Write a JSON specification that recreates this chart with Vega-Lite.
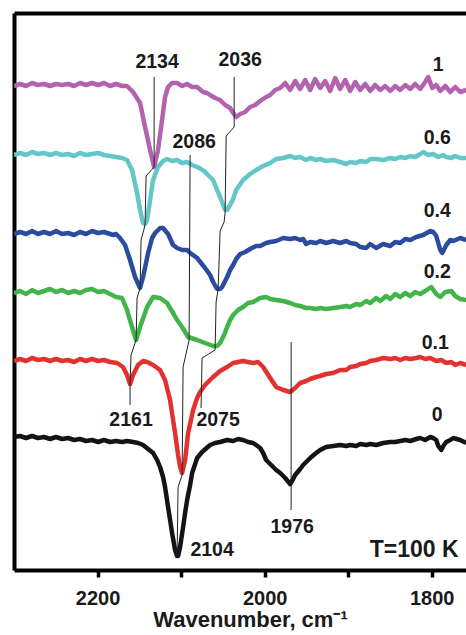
{
  "$schema": "https://vega.github.io/schema/vega-lite/v6.json",
  "width": 452,
  "height": 557,
  "autosize": {"type": "none"},
  "padding": {"left": 14, "top": 13, "right": 0, "bottom": 65},
  "background": "white",
  "view": {"stroke": null},
  "config": {"font": "Liberation Sans"},
  "datasets": {
    "curves": [
      {"s":"0","w":2300,"a":133},{"s":"0","w":2292.8,"a":134},{"s":"0","w":2285.6,"a":132},{"s":"0","w":2278.4,"a":134},{"s":"0","w":2271.3,"a":132},{"s":"0","w":2264.1,"a":133},{"s":"0","w":2256.9,"a":131},{"s":"0","w":2249.7,"a":133},{"s":"0","w":2242.5,"a":131},{"s":"0","w":2235.3,"a":132},{"s":"0","w":2228.1,"a":130},{"s":"0","w":2221.0,"a":131},{"s":"0","w":2213.8,"a":129},{"s":"0","w":2206.6,"a":130},{"s":"0","w":2199.4,"a":128},{"s":"0","w":2192.2,"a":130},{"s":"0","w":2185.0,"a":128},{"s":"0","w":2177.8,"a":129},{"s":"0","w":2170.7,"a":128},{"s":"0","w":2164.7,"a":129},{"s":"0","w":2157.5,"a":128},{"s":"0","w":2151.5,"a":127},{"s":"0","w":2145.5,"a":125},{"s":"0","w":2139.5,"a":121},{"s":"0","w":2133.5,"a":117},{"s":"0","w":2128.7,"a":110},{"s":"0","w":2125.2,"a":103},{"s":"0","w":2121.6,"a":93},{"s":"0","w":2119.2,"a":83},{"s":"0","w":2115.6,"a":63},{"s":"0","w":2113.2,"a":50},{"s":"0","w":2110.8,"a":37},{"s":"0","w":2107.2,"a":20},{"s":"0","w":2104.8,"a":14},{"s":"0","w":2103.6,"a":14},{"s":"0","w":2101.2,"a":23},{"s":"0","w":2097.6,"a":43},{"s":"0","w":2095.2,"a":57},{"s":"0","w":2092.8,"a":70},{"s":"0","w":2089.2,"a":85},{"s":"0","w":2086.8,"a":97},{"s":"0","w":2080.8,"a":112},{"s":"0","w":2074.9,"a":118},{"s":"0","w":2065.3,"a":125},{"s":"0","w":2059.3,"a":127},{"s":"0","w":2053.3,"a":128},{"s":"0","w":2044.9,"a":130},{"s":"0","w":2037.7,"a":129},{"s":"0","w":2031.8,"a":131},{"s":"0","w":2025.8,"a":130},{"s":"0","w":2019.8,"a":128},{"s":"0","w":2013.8,"a":127},{"s":"0","w":2010.2,"a":125},{"s":"0","w":2005.4,"a":122},{"s":"0","w":2001.8,"a":117},{"s":"0","w":1998.2,"a":110},{"s":"0","w":1993.4,"a":106},{"s":"0","w":1986.2,"a":100},{"s":"0","w":1981.4,"a":97},{"s":"0","w":1975.4,"a":92},{"s":"0","w":1969.5,"a":86},{"s":"0","w":1965.9,"a":91},{"s":"0","w":1963.5,"a":95},{"s":"0","w":1957.5,"a":101},{"s":"0","w":1953.9,"a":105},{"s":"0","w":1945.5,"a":112},{"s":"0","w":1938.4,"a":117},{"s":"0","w":1933.5,"a":120},{"s":"0","w":1926.4,"a":123},{"s":"0","w":1918.0,"a":124},{"s":"0","w":1909.6,"a":125},{"s":"0","w":1902.4,"a":124},{"s":"0","w":1897.6,"a":125},{"s":"0","w":1890.4,"a":124},{"s":"0","w":1885.6,"a":126},{"s":"0","w":1878.4,"a":125},{"s":"0","w":1873.7,"a":126},{"s":"0","w":1866.5,"a":125},{"s":"0","w":1858.1,"a":127},{"s":"0","w":1849.7,"a":128},{"s":"0","w":1843.7,"a":128},{"s":"0","w":1837.7,"a":129},{"s":"0","w":1831.7,"a":130},{"s":"0","w":1825.7,"a":129},{"s":"0","w":1818.6,"a":131},{"s":"0","w":1813.8,"a":132},{"s":"0","w":1807.8,"a":130},{"s":"0","w":1801.8,"a":133},{"s":"0","w":1798.2,"a":132},{"s":"0","w":1794.6,"a":130},{"s":"0","w":1792.2,"a":124},{"s":"0","w":1788.6,"a":120},{"s":"0","w":1786.2,"a":124},{"s":"0","w":1782.6,"a":128},{"s":"0","w":1777.8,"a":130},{"s":"0","w":1774.3,"a":132},{"s":"0","w":1765.9,"a":130},{"s":"0","w":1758.7,"a":127},

      {"s":"0.1","w":2300,"a":209},{"s":"0.1","w":2292.8,"a":211},{"s":"0.1","w":2285.6,"a":209},{"s":"0.1","w":2278.4,"a":212},{"s":"0.1","w":2271.3,"a":210},{"s":"0.1","w":2264.1,"a":211},{"s":"0.1","w":2256.9,"a":209},{"s":"0.1","w":2249.7,"a":211},{"s":"0.1","w":2242.5,"a":209},{"s":"0.1","w":2235.3,"a":210},{"s":"0.1","w":2228.1,"a":208},{"s":"0.1","w":2221.0,"a":211},{"s":"0.1","w":2213.8,"a":209},{"s":"0.1","w":2206.6,"a":211},{"s":"0.1","w":2199.4,"a":209},{"s":"0.1","w":2192.2,"a":210},{"s":"0.1","w":2185.0,"a":208},{"s":"0.1","w":2176.6,"a":207},{"s":"0.1","w":2169.5,"a":203},{"s":"0.1","w":2164.7,"a":195},{"s":"0.1","w":2161.1,"a":186},{"s":"0.1","w":2157.5,"a":195},{"s":"0.1","w":2151.5,"a":205},{"s":"0.1","w":2145.5,"a":209},{"s":"0.1","w":2140.7,"a":208},{"s":"0.1","w":2133.5,"a":205},{"s":"0.1","w":2125.2,"a":200},{"s":"0.1","w":2119.2,"a":190},{"s":"0.1","w":2113.2,"a":170},{"s":"0.1","w":2107.2,"a":137},{"s":"0.1","w":2103.6,"a":115},{"s":"0.1","w":2101.2,"a":103},{"s":"0.1","w":2098.8,"a":97},{"s":"0.1","w":2095.2,"a":110},{"s":"0.1","w":2091.6,"a":137},{"s":"0.1","w":2085.6,"a":160},{"s":"0.1","w":2080.8,"a":172},{"s":"0.1","w":2077.3,"a":178},{"s":"0.1","w":2071.3,"a":185},{"s":"0.1","w":2061.7,"a":193},{"s":"0.1","w":2053.3,"a":199},{"s":"0.1","w":2044.9,"a":203},{"s":"0.1","w":2037.7,"a":207},{"s":"0.1","w":2031.8,"a":208},{"s":"0.1","w":2025.8,"a":209},{"s":"0.1","w":2019.8,"a":208},{"s":"0.1","w":2013.8,"a":207},{"s":"0.1","w":2007.8,"a":208},{"s":"0.1","w":2001.8,"a":203},{"s":"0.1","w":1993.4,"a":192},{"s":"0.1","w":1986.2,"a":183},{"s":"0.1","w":1977.8,"a":180},{"s":"0.1","w":1969.5,"a":178},{"s":"0.1","w":1963.5,"a":182},{"s":"0.1","w":1957.5,"a":187},{"s":"0.1","w":1950.3,"a":189},{"s":"0.1","w":1945.5,"a":191},{"s":"0.1","w":1938.4,"a":193},{"s":"0.1","w":1933.5,"a":194},{"s":"0.1","w":1926.4,"a":196},{"s":"0.1","w":1918.0,"a":197},{"s":"0.1","w":1909.6,"a":200},{"s":"0.1","w":1902.4,"a":200},{"s":"0.1","w":1897.6,"a":203},{"s":"0.1","w":1890.4,"a":204},{"s":"0.1","w":1885.6,"a":206},{"s":"0.1","w":1878.4,"a":207},{"s":"0.1","w":1873.7,"a":209},{"s":"0.1","w":1866.5,"a":210},{"s":"0.1","w":1858.1,"a":212},{"s":"0.1","w":1849.7,"a":211},{"s":"0.1","w":1843.7,"a":212},{"s":"0.1","w":1837.7,"a":210},{"s":"0.1","w":1831.7,"a":212},{"s":"0.1","w":1825.7,"a":211},{"s":"0.1","w":1818.6,"a":212},{"s":"0.1","w":1813.8,"a":213},{"s":"0.1","w":1807.8,"a":211},{"s":"0.1","w":1801.8,"a":212},{"s":"0.1","w":1794.6,"a":209},{"s":"0.1","w":1788.6,"a":210},{"s":"0.1","w":1782.6,"a":207},{"s":"0.1","w":1776.6,"a":208},{"s":"0.1","w":1771.9,"a":205},{"s":"0.1","w":1765.9,"a":207},{"s":"0.1","w":1758.7,"a":205},

      {"s":"0.2","w":2300,"a":277},{"s":"0.2","w":2292.8,"a":279},{"s":"0.2","w":2285.6,"a":276},{"s":"0.2","w":2278.4,"a":280},{"s":"0.2","w":2271.3,"a":277},{"s":"0.2","w":2264.1,"a":279},{"s":"0.2","w":2256.9,"a":281},{"s":"0.2","w":2249.7,"a":278},{"s":"0.2","w":2242.5,"a":280},{"s":"0.2","w":2235.3,"a":277},{"s":"0.2","w":2228.1,"a":279},{"s":"0.2","w":2221.0,"a":277},{"s":"0.2","w":2213.8,"a":280},{"s":"0.2","w":2206.6,"a":281},{"s":"0.2","w":2199.4,"a":278},{"s":"0.2","w":2192.2,"a":279},{"s":"0.2","w":2185.0,"a":276},{"s":"0.2","w":2177.8,"a":273},{"s":"0.2","w":2170.7,"a":272},{"s":"0.2","w":2164.7,"a":260},{"s":"0.2","w":2158.7,"a":243},{"s":"0.2","w":2153.9,"a":230},{"s":"0.2","w":2149.1,"a":243},{"s":"0.2","w":2140.7,"a":263},{"s":"0.2","w":2133.5,"a":273},{"s":"0.2","w":2125.2,"a":272},{"s":"0.2","w":2116.8,"a":267},{"s":"0.2","w":2109.6,"a":257},{"s":"0.2","w":2104.8,"a":250},{"s":"0.2","w":2098.8,"a":243},{"s":"0.2","w":2091.6,"a":233},{"s":"0.2","w":2080.8,"a":230},{"s":"0.2","w":2071.3,"a":227},{"s":"0.2","w":2061.7,"a":224},{"s":"0.2","w":2056.9,"a":224},{"s":"0.2","w":2053.3,"a":227},{"s":"0.2","w":2048.5,"a":235},{"s":"0.2","w":2044.9,"a":243},{"s":"0.2","w":2041.3,"a":250},{"s":"0.2","w":2037.7,"a":255},{"s":"0.2","w":2031.8,"a":260},{"s":"0.2","w":2025.8,"a":263},{"s":"0.2","w":2019.8,"a":267},{"s":"0.2","w":2013.8,"a":268},{"s":"0.2","w":2005.4,"a":272},{"s":"0.2","w":1998.2,"a":273},{"s":"0.2","w":1993.4,"a":271},{"s":"0.2","w":1986.2,"a":270},{"s":"0.2","w":1977.8,"a":269},{"s":"0.2","w":1969.5,"a":267},{"s":"0.2","w":1963.5,"a":265},{"s":"0.2","w":1957.5,"a":264},{"s":"0.2","w":1950.3,"a":262},{"s":"0.2","w":1945.5,"a":262},{"s":"0.2","w":1938.4,"a":261},{"s":"0.2","w":1933.5,"a":262},{"s":"0.2","w":1926.4,"a":261},{"s":"0.2","w":1918.0,"a":262},{"s":"0.2","w":1909.6,"a":263},{"s":"0.2","w":1902.4,"a":264},{"s":"0.2","w":1897.6,"a":263},{"s":"0.2","w":1890.4,"a":266},{"s":"0.2","w":1885.6,"a":265},{"s":"0.2","w":1878.4,"a":269},{"s":"0.2","w":1873.7,"a":267},{"s":"0.2","w":1866.5,"a":272},{"s":"0.2","w":1861.7,"a":269},{"s":"0.2","w":1854.5,"a":274},{"s":"0.2","w":1849.7,"a":271},{"s":"0.2","w":1843.7,"a":276},{"s":"0.2","w":1837.7,"a":273},{"s":"0.2","w":1831.7,"a":277},{"s":"0.2","w":1825.7,"a":274},{"s":"0.2","w":1819.8,"a":278},{"s":"0.2","w":1813.8,"a":276},{"s":"0.2","w":1807.8,"a":279},{"s":"0.2","w":1800.6,"a":283},{"s":"0.2","w":1794.6,"a":276},{"s":"0.2","w":1789.8,"a":273},{"s":"0.2","w":1783.8,"a":278},{"s":"0.2","w":1776.6,"a":279},{"s":"0.2","w":1771.9,"a":274},{"s":"0.2","w":1765.9,"a":271},{"s":"0.2","w":1758.7,"a":270},

      {"s":"0.4","w":2300,"a":336},{"s":"0.4","w":2292.8,"a":338},{"s":"0.4","w":2285.6,"a":336},{"s":"0.4","w":2278.4,"a":339},{"s":"0.4","w":2271.3,"a":336},{"s":"0.4","w":2264.1,"a":338},{"s":"0.4","w":2256.9,"a":336},{"s":"0.4","w":2249.7,"a":339},{"s":"0.4","w":2242.5,"a":336},{"s":"0.4","w":2235.3,"a":337},{"s":"0.4","w":2228.1,"a":335},{"s":"0.4","w":2221.0,"a":338},{"s":"0.4","w":2213.8,"a":336},{"s":"0.4","w":2206.6,"a":339},{"s":"0.4","w":2199.4,"a":337},{"s":"0.4","w":2192.2,"a":338},{"s":"0.4","w":2185.0,"a":336},{"s":"0.4","w":2181.4,"a":335},{"s":"0.4","w":2177.8,"a":336},{"s":"0.4","w":2173.1,"a":332},{"s":"0.4","w":2167.1,"a":325},{"s":"0.4","w":2161.1,"a":310},{"s":"0.4","w":2155.1,"a":293},{"s":"0.4","w":2149.1,"a":282},{"s":"0.4","w":2145.5,"a":293},{"s":"0.4","w":2139.5,"a":317},{"s":"0.4","w":2134.7,"a":332},{"s":"0.4","w":2131.1,"a":337},{"s":"0.4","w":2125.2,"a":342},{"s":"0.4","w":2121.6,"a":342},{"s":"0.4","w":2115.6,"a":336},{"s":"0.4","w":2109.6,"a":325},{"s":"0.4","w":2104.8,"a":322},{"s":"0.4","w":2098.8,"a":320},{"s":"0.4","w":2092.8,"a":320},{"s":"0.4","w":2089.2,"a":317},{"s":"0.4","w":2080.8,"a":312},{"s":"0.4","w":2076.1,"a":307},{"s":"0.4","w":2071.3,"a":302},{"s":"0.4","w":2065.3,"a":295},{"s":"0.4","w":2061.7,"a":288},{"s":"0.4","w":2056.9,"a":281},{"s":"0.4","w":2053.3,"a":281},{"s":"0.4","w":2050.9,"a":283},{"s":"0.4","w":2044.9,"a":293},{"s":"0.4","w":2041.3,"a":300},{"s":"0.4","w":2037.7,"a":305},{"s":"0.4","w":2034.1,"a":311},{"s":"0.4","w":2029.3,"a":316},{"s":"0.4","w":2023.4,"a":318},{"s":"0.4","w":2017.4,"a":321},{"s":"0.4","w":2010.2,"a":324},{"s":"0.4","w":2005.4,"a":324},{"s":"0.4","w":1998.2,"a":327},{"s":"0.4","w":1993.4,"a":328},{"s":"0.4","w":1986.2,"a":329},{"s":"0.4","w":1977.8,"a":332},{"s":"0.4","w":1969.5,"a":331},{"s":"0.4","w":1963.5,"a":332},{"s":"0.4","w":1957.5,"a":330},{"s":"0.4","w":1953.9,"a":331},{"s":"0.4","w":1950.3,"a":326},{"s":"0.4","w":1945.5,"a":328},{"s":"0.4","w":1938.4,"a":327},{"s":"0.4","w":1933.5,"a":329},{"s":"0.4","w":1926.4,"a":327},{"s":"0.4","w":1918.0,"a":329},{"s":"0.4","w":1909.6,"a":327},{"s":"0.4","w":1902.4,"a":329},{"s":"0.4","w":1897.6,"a":327},{"s":"0.4","w":1890.4,"a":326},{"s":"0.4","w":1885.6,"a":323},{"s":"0.4","w":1878.4,"a":322},{"s":"0.4","w":1873.7,"a":326},{"s":"0.4","w":1866.5,"a":322},{"s":"0.4","w":1858.1,"a":326},{"s":"0.4","w":1849.7,"a":324},{"s":"0.4","w":1843.7,"a":328},{"s":"0.4","w":1837.7,"a":327},{"s":"0.4","w":1831.7,"a":331},{"s":"0.4","w":1825.7,"a":330},{"s":"0.4","w":1818.6,"a":333},{"s":"0.4","w":1810.2,"a":335},{"s":"0.4","w":1801.8,"a":339},{"s":"0.4","w":1798.2,"a":338},{"s":"0.4","w":1794.6,"a":334},{"s":"0.4","w":1789.8,"a":320},{"s":"0.4","w":1787.4,"a":317},{"s":"0.4","w":1782.6,"a":325},{"s":"0.4","w":1777.8,"a":330},{"s":"0.4","w":1774.3,"a":329},{"s":"0.4","w":1765.9,"a":332},{"s":"0.4","w":1758.7,"a":330},

      {"s":"0.6","w":2300,"a":415},{"s":"0.6","w":2292.8,"a":417},{"s":"0.6","w":2285.6,"a":415},{"s":"0.6","w":2278.4,"a":418},{"s":"0.6","w":2271.3,"a":416},{"s":"0.6","w":2264.1,"a":417},{"s":"0.6","w":2256.9,"a":415},{"s":"0.6","w":2249.7,"a":417},{"s":"0.6","w":2242.5,"a":415},{"s":"0.6","w":2235.3,"a":416},{"s":"0.6","w":2228.1,"a":414},{"s":"0.6","w":2221.0,"a":417},{"s":"0.6","w":2213.8,"a":415},{"s":"0.6","w":2206.6,"a":416},{"s":"0.6","w":2199.4,"a":417},{"s":"0.6","w":2192.2,"a":415},{"s":"0.6","w":2185.0,"a":414},{"s":"0.6","w":2177.8,"a":413},{"s":"0.6","w":2170.7,"a":412},{"s":"0.6","w":2164.7,"a":410},{"s":"0.6","w":2158.7,"a":400},{"s":"0.6","w":2152.7,"a":377},{"s":"0.6","w":2149.1,"a":360},{"s":"0.6","w":2145.5,"a":347},{"s":"0.6","w":2143.1,"a":346},{"s":"0.6","w":2140.7,"a":350},{"s":"0.6","w":2137.1,"a":370},{"s":"0.6","w":2133.5,"a":390},{"s":"0.6","w":2127.6,"a":403},{"s":"0.6","w":2121.6,"a":409},{"s":"0.6","w":2116.8,"a":411},{"s":"0.6","w":2110.8,"a":409},{"s":"0.6","w":2104.8,"a":410},{"s":"0.6","w":2098.8,"a":407},{"s":"0.6","w":2092.8,"a":408},{"s":"0.6","w":2086.8,"a":405},{"s":"0.6","w":2080.8,"a":403},{"s":"0.6","w":2076.1,"a":401},{"s":"0.6","w":2071.3,"a":398},{"s":"0.6","w":2065.3,"a":393},{"s":"0.6","w":2061.7,"a":390},{"s":"0.6","w":2056.9,"a":380},{"s":"0.6","w":2053.3,"a":373},{"s":"0.6","w":2047.3,"a":360},{"s":"0.6","w":2044.9,"a":360},{"s":"0.6","w":2041.3,"a":365},{"s":"0.6","w":2037.7,"a":371},{"s":"0.6","w":2034.1,"a":380},{"s":"0.6","w":2025.8,"a":390},{"s":"0.6","w":2017.4,"a":396},{"s":"0.6","w":2010.2,"a":400},{"s":"0.6","w":2001.8,"a":404},{"s":"0.6","w":1993.4,"a":407},{"s":"0.6","w":1986.2,"a":411},{"s":"0.6","w":1977.8,"a":412},{"s":"0.6","w":1969.5,"a":414},{"s":"0.6","w":1963.5,"a":412},{"s":"0.6","w":1957.5,"a":413},{"s":"0.6","w":1950.3,"a":410},{"s":"0.6","w":1945.5,"a":412},{"s":"0.6","w":1938.4,"a":410},{"s":"0.6","w":1933.5,"a":411},{"s":"0.6","w":1926.4,"a":409},{"s":"0.6","w":1918.0,"a":410},{"s":"0.6","w":1909.6,"a":408},{"s":"0.6","w":1902.4,"a":406},{"s":"0.6","w":1897.6,"a":408},{"s":"0.6","w":1890.4,"a":407},{"s":"0.6","w":1885.6,"a":409},{"s":"0.6","w":1878.4,"a":408},{"s":"0.6","w":1873.7,"a":411},{"s":"0.6","w":1866.5,"a":411},{"s":"0.6","w":1858.1,"a":410},{"s":"0.6","w":1849.7,"a":412},{"s":"0.6","w":1843.7,"a":411},{"s":"0.6","w":1837.7,"a":413},{"s":"0.6","w":1831.7,"a":412},{"s":"0.6","w":1825.7,"a":414},{"s":"0.6","w":1819.8,"a":413},{"s":"0.6","w":1813.8,"a":416},{"s":"0.6","w":1810.2,"a":418},{"s":"0.6","w":1804.2,"a":415},{"s":"0.6","w":1798.2,"a":416},{"s":"0.6","w":1792.2,"a":413},{"s":"0.6","w":1786.2,"a":415},{"s":"0.6","w":1782.6,"a":413},{"s":"0.6","w":1776.6,"a":412},{"s":"0.6","w":1771.9,"a":414},{"s":"0.6","w":1765.9,"a":412},{"s":"0.6","w":1758.7,"a":412},

      {"s":"1","w":2300,"a":484},{"s":"1","w":2292.8,"a":486},{"s":"1","w":2285.6,"a":484},{"s":"1","w":2278.4,"a":487},{"s":"1","w":2271.3,"a":485},{"s":"1","w":2264.1,"a":486},{"s":"1","w":2256.9,"a":484},{"s":"1","w":2249.7,"a":486},{"s":"1","w":2242.5,"a":485},{"s":"1","w":2235.3,"a":486},{"s":"1","w":2228.1,"a":484},{"s":"1","w":2221.0,"a":487},{"s":"1","w":2213.8,"a":485},{"s":"1","w":2206.6,"a":487},{"s":"1","w":2199.4,"a":485},{"s":"1","w":2192.2,"a":487},{"s":"1","w":2185.0,"a":484},{"s":"1","w":2177.8,"a":486},{"s":"1","w":2170.7,"a":484},{"s":"1","w":2164.7,"a":484},{"s":"1","w":2157.5,"a":478},{"s":"1","w":2149.1,"a":467},{"s":"1","w":2143.1,"a":443},{"s":"1","w":2137.1,"a":420},{"s":"1","w":2132.3,"a":403},{"s":"1","w":2127.6,"a":420},{"s":"1","w":2122.8,"a":450},{"s":"1","w":2119.2,"a":473},{"s":"1","w":2115.6,"a":483},{"s":"1","w":2110.8,"a":487},{"s":"1","w":2104.8,"a":487},{"s":"1","w":2098.8,"a":484},{"s":"1","w":2092.8,"a":486},{"s":"1","w":2086.8,"a":483},{"s":"1","w":2080.8,"a":483},{"s":"1","w":2073.7,"a":478},{"s":"1","w":2068.9,"a":477},{"s":"1","w":2065.3,"a":475},{"s":"1","w":2059.3,"a":472},{"s":"1","w":2053.3,"a":470},{"s":"1","w":2047.3,"a":465},{"s":"1","w":2041.3,"a":462},{"s":"1","w":2037.7,"a":457},{"s":"1","w":2034.1,"a":453},{"s":"1","w":2029.3,"a":456},{"s":"1","w":2023.4,"a":458},{"s":"1","w":2017.4,"a":463},{"s":"1","w":2011.4,"a":465},{"s":"1","w":2005.4,"a":469},{"s":"1","w":1998.2,"a":473},{"s":"1","w":1993.4,"a":475},{"s":"1","w":1987.4,"a":480},{"s":"1","w":1981.4,"a":482},{"s":"1","w":1975.4,"a":487},{"s":"1","w":1969.5,"a":480},{"s":"1","w":1963.5,"a":489},{"s":"1","w":1957.5,"a":481},{"s":"1","w":1951.5,"a":490},{"s":"1","w":1945.5,"a":480},{"s":"1","w":1939.5,"a":491},{"s":"1","w":1933.5,"a":482},{"s":"1","w":1927.6,"a":489},{"s":"1","w":1921.6,"a":479},{"s":"1","w":1915.6,"a":492},{"s":"1","w":1909.6,"a":481},{"s":"1","w":1903.6,"a":490},{"s":"1","w":1897.6,"a":479},{"s":"1","w":1891.6,"a":488},{"s":"1","w":1885.6,"a":480},{"s":"1","w":1879.6,"a":486},{"s":"1","w":1873.7,"a":479},{"s":"1","w":1867.7,"a":485},{"s":"1","w":1861.7,"a":480},{"s":"1","w":1855.7,"a":484},{"s":"1","w":1849.7,"a":479},{"s":"1","w":1843.7,"a":484},{"s":"1","w":1837.7,"a":480},{"s":"1","w":1831.7,"a":485},{"s":"1","w":1825.7,"a":481},{"s":"1","w":1819.8,"a":486},{"s":"1","w":1813.8,"a":481},{"s":"1","w":1807.8,"a":488},{"s":"1","w":1804.2,"a":493},{"s":"1","w":1799.4,"a":482},{"s":"1","w":1794.6,"a":485},{"s":"1","w":1789.8,"a":479},{"s":"1","w":1783.8,"a":484},{"s":"1","w":1777.8,"a":478},{"s":"1","w":1771.9,"a":483},{"s":"1","w":1765.9,"a":478},{"s":"1","w":1758.7,"a":480}
    ],
    "ann": [
      {"g":"A","i":1,"w":2132.3,"a":493},{"g":"A","i":2,"w":2132.3,"a":403},{"g":"A","i":3,"w":2141.9,"a":394},{"g":"A","i":4,"w":2143.1,"a":346},{"g":"A","i":5,"w":2144.3,"a":341},{"g":"A","i":6,"w":2147.9,"a":330},{"g":"A","i":7,"w":2149.1,"a":282},{"g":"A","i":8,"w":2152.7,"a":272},{"g":"A","i":9,"w":2153.9,"a":230},{"g":"A","i":10,"w":2159.9,"a":215},{"g":"A","i":11,"w":2161.1,"a":186},{"g":"A","i":12,"w":2161.1,"a":165},
      {"g":"B","i":1,"w":2036.5,"a":493},{"g":"B","i":2,"w":2036.5,"a":443},{"g":"B","i":3,"w":2046.1,"a":434},{"g":"B","i":4,"w":2047.3,"a":358},{"g":"B","i":5,"w":2048.5,"a":348},{"g":"B","i":6,"w":2053.3,"a":339},{"g":"B","i":7,"w":2055.7,"a":281},{"g":"B","i":8,"w":2058.1,"a":268},{"g":"B","i":9,"w":2059.3,"a":220},{"g":"B","i":10,"w":2074.9,"a":212},{"g":"B","i":11,"w":2076.1,"a":162},
      {"g":"C","i":1,"w":2089.2,"a":415},{"g":"C","i":2,"w":2090.4,"a":230},{"g":"C","i":3,"w":2097.6,"a":203},{"g":"C","i":4,"w":2098.8,"a":95},{"g":"C","i":5,"w":2103.6,"a":83},{"g":"C","i":6,"w":2104.8,"a":14},
      {"g":"D","i":1,"w":1968.3,"a":228},{"g":"D","i":2,"w":1968.3,"a":60}
    ],
    "labels": [
      {"t":"2134","w":2128.7,"a":508,"k":"n"},
      {"t":"2036","w":2029.3,"a":510,"k":"n"},
      {"t":"2086","w":2084.4,"a":428,"k":"n"},
      {"t":"2161","w":2159.9,"a":150,"k":"n"},
      {"t":"2075","w":2055.7,"a":150,"k":"n"},
      {"t":"2104","w":2062.9,"a":20,"k":"n"},
      {"t":"1976","w":1967.1,"a":43,"k":"n"},
      {"t":"T=100 K","w":1821.0,"a":20,"k":"big"},
      {"t":"1","w":1792.2,"a":505,"k":"n"},
      {"t":"0.6","w":1793.4,"a":432,"k":"n"},
      {"t":"0.4","w":1793.4,"a":359,"k":"n"},
      {"t":"0.2","w":1793.4,"a":298,"k":"n"},
      {"t":"0.1","w":1795.8,"a":227,"k":"n"},
      {"t":"0","w":1793.4,"a":155,"k":"n"}
    ]
  },
  "resolve": {"axis": {"x": "independent", "y": "independent"}},
  "layer": [
    {
      "data": {"name": "curves"},
      "mark": {"type": "line", "strokeWidth": 4.5, "strokeJoin": "round", "clip": true},
      "encoding": {
        "x": {"field": "w", "type": "quantitative",
          "scale": {"domain": [1759, 2300], "reverse": true, "nice": false, "zero": false},
          "axis": {"orient": "bottom", "values": [2200, 2100, 2000, 1900, 1800], "format": "d",
            "labelExpr": "datum.value % 200 === 0 ? datum.label : ''",
            "grid": false, "domainColor": "black", "domainWidth": 4, "tickColor": "black", "tickWidth": 3.5, "tickSize": 7,
            "labelFont": "Liberation Sans", "labelFontSize": 20, "labelFontWeight": "bold", "labelColor": "#1a1a1a", "labelPadding": 11,
            "title": "Wavenumber, cm⁻¹", "titleFont": "Liberation Sans", "titleFontSize": 22, "titleFontWeight": "bold", "titleColor": "#1a1a1a", "titlePadding": 1, "titleX": 236}},
        "y": {"field": "a", "type": "quantitative",
          "scale": {"domain": [0, 557], "nice": false, "zero": false},
          "axis": {"orient": "left", "labels": false, "ticks": false, "grid": false, "title": null, "domainColor": "black", "domainWidth": 4}},
        "color": {"field": "s", "type": "nominal",
          "scale": {"domain": ["0", "0.1", "0.2", "0.4", "0.6", "1"], "range": ["#141414", "#E2322F", "#41B54A", "#2B4C9E", "#63C6C8", "#B262AE"]},
          "legend": null}
      }
    },
    {
      "data": {"name": "ann"},
      "mark": {"type": "line", "strokeWidth": 1, "color": "#222222"},
      "encoding": {
        "x": {"field": "w", "type": "quantitative", "scale": {"domain": [1759, 2300], "reverse": true, "nice": false, "zero": false}, "axis": null},
        "y": {"field": "a", "type": "quantitative", "scale": {"domain": [0, 557], "nice": false, "zero": false}, "axis": null},
        "detail": {"field": "g", "type": "nominal"},
        "order": {"field": "i", "type": "quantitative"}
      }
    },
    {
      "data": {"name": "labels"},
      "mark": {"type": "text", "font": "Liberation Sans", "fontWeight": "bold", "color": "#1a1a1a", "align": "center", "baseline": "middle"},
      "encoding": {
        "x": {"field": "w", "type": "quantitative", "scale": {"domain": [1759, 2300], "reverse": true, "nice": false, "zero": false},
          "axis": {"orient": "top", "labels": false, "ticks": false, "grid": false, "title": null, "domainColor": "black", "domainWidth": 4}},
        "y": {"field": "a", "type": "quantitative", "scale": {"domain": [0, 557], "nice": false, "zero": false}, "axis": null},
        "text": {"field": "t", "type": "nominal"},
        "size": {"field": "k", "type": "nominal", "scale": {"domain": ["n", "big"], "range": [19.5, 23]}, "legend": null}
      }
    }
  ]
}
